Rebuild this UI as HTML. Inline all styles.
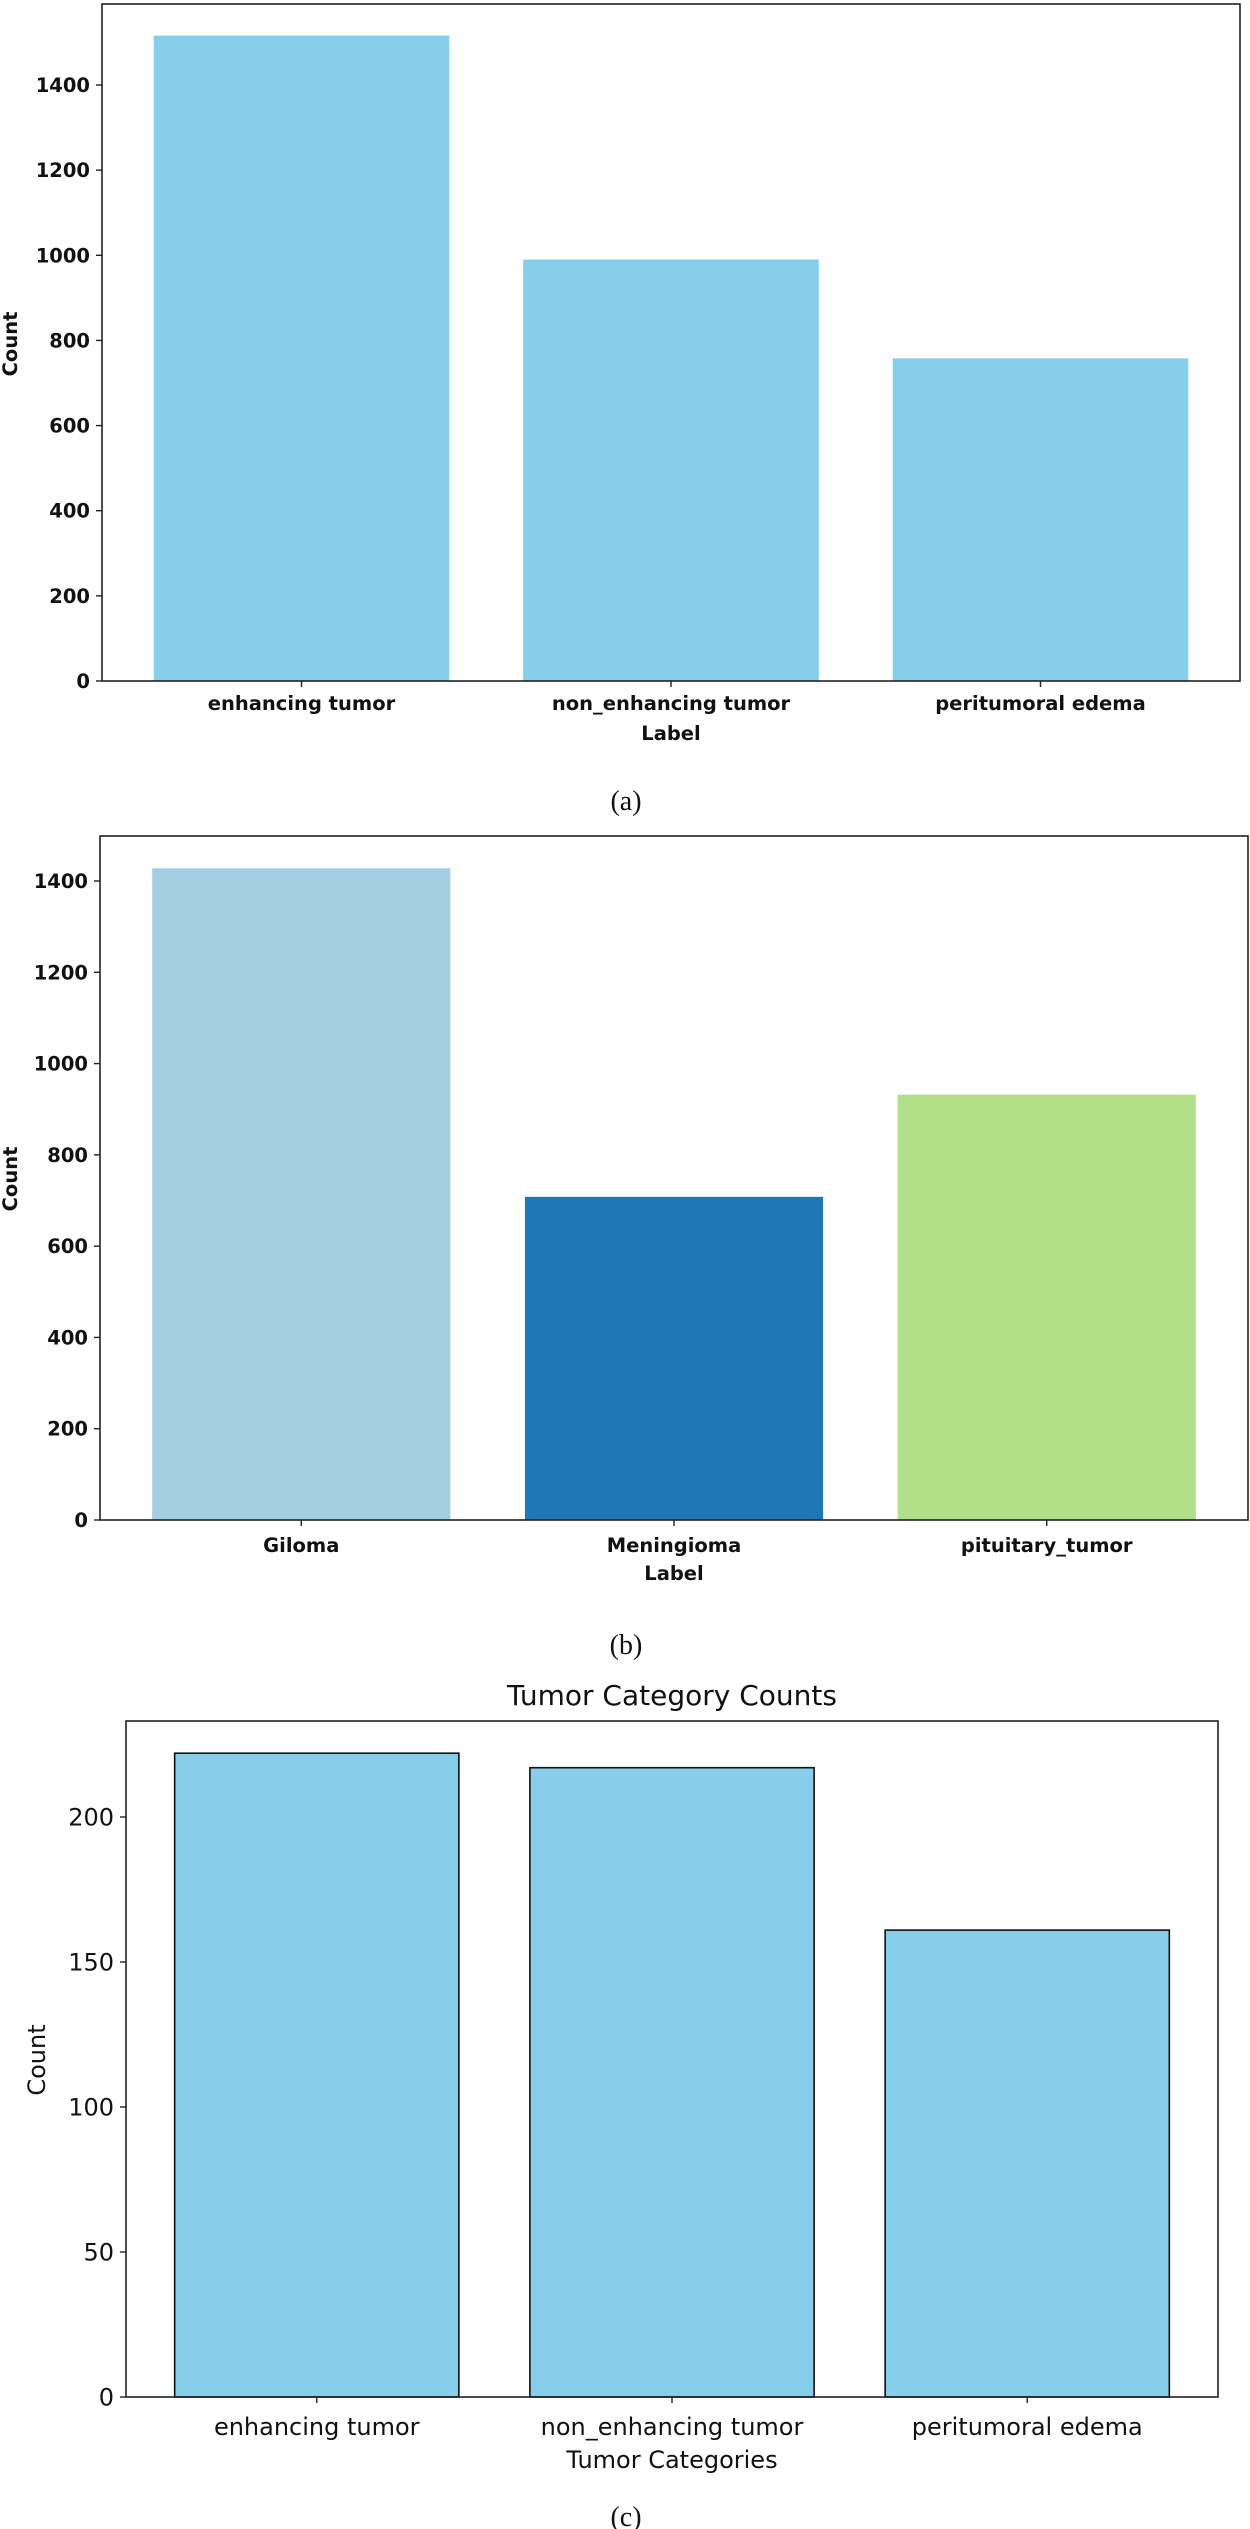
<!DOCTYPE html>
<html><head><meta charset="utf-8">
<style>
html,body{margin:0;padding:0;background:#fff;}
svg{display:block;}
text{font-family:"DejaVu Sans","Liberation Sans",sans-serif;fill:#111;}
.b{font-weight:bold;}
.cap{font-family:"Liberation Serif",serif;font-size:28px;}
</style></head>
<body>
<svg id="fig" width="1250" height="2529" viewBox="0 0 1250 2529" xmlns="http://www.w3.org/2000/svg">
<g id="chartA"></g>
<g id="chartB"></g>
<g id="chartC"></g>
<text class="cap" x="626" y="810" text-anchor="middle">(a)</text>
<text class="cap" x="626" y="1654" text-anchor="middle">(b)</text>
<text class="cap" x="626" y="2526" text-anchor="middle">(c)</text>
</svg>
<script>
const catsA = ["enhancing tumor", "non_enhancing tumor", "peritumoral edema"];
const valsA = [1516, 990, 758];
const ticksA = [0, 200, 400, 600, 800, 1000, 1200, 1400];
const catsB = ["Giloma", "Meningioma", "pituitary_tumor"];
const valsB = [1428, 708, 932];
const colorsB = ["#a6cee3", "#1f78b4", "#b2df8a"];
const ticksB = [0, 200, 400, 600, 800, 1000, 1200, 1400];
const catsC = ["enhancing tumor", "non_enhancing tumor", "peritumoral edema"];
const valsC = [222, 217, 161];
const ticksC = [0, 50, 100, 150, 200];

const NS = "http://www.w3.org/2000/svg";
function mk(parent, tag, attrs, txt) {
  const e = document.createElementNS(NS, tag);
  for (const k in attrs) e.setAttribute(k, attrs[k]);
  if (txt !== undefined) e.textContent = txt;
  parent.appendChild(e);
  return e;
}

function drawChart(g, o) {
  const xScale = i => o.left + (i - o.xmin) / (o.xmax - o.xmin) * (o.right - o.left);
  const yScale = v => o.bottom - v / o.ymaxRef * (o.bottom - o.yRefPx);
  const bw = (xScale(0.4) - xScale(-0.4));
  o.vals.forEach((v, i) => {
    const r = mk(g, "rect", {x: xScale(i) - bw / 2, y: yScale(v), width: bw, height: o.bottom - yScale(v),
      fill: o.colors ? o.colors[i] : "#87ceeb", stroke: o.edge ? "#111" : "none", "stroke-width": o.edge ? 1.6 : 0});
    
    
  });
  const frame = mk(g, "rect", {x: o.left, y: o.top, width: o.right - o.left, height: o.bottom - o.top, fill: "none", stroke: "#222", "stroke-width": 1.6});
  
  
  o.ticks.forEach(t => {
    const y = yScale(t);
    const l = mk(g, "line", {x1: o.left - 6, x2: o.left, y1: y, y2: y, stroke: "#222", "stroke-width": 1.4});
    
    
    const tx = mk(g, "text", {x: o.left - 12, y: y + o.fs * 0.36, "text-anchor": "end", "font-size": o.fs, class: o.bold ? "b" : ""}, String(t));
    
    
  });
  o.cats.forEach((c, i) => {
    const x = xScale(i);
    const l = mk(g, "line", {x1: x, x2: x, y1: o.bottom, y2: o.bottom + 6, stroke: "#222", "stroke-width": 1.4});
    
    
    const tx = mk(g, "text", {x: x, y: o.tickY, "text-anchor": "middle", "font-size": o.fs, class: o.bold ? "b" : ""}, c);
    
    
  });
  const xl = mk(g, "text", {x: (o.left + o.right) / 2, y: o.xlabY, "text-anchor": "middle", "font-size": o.fs, class: o.bold ? "b" : ""}, o.xlab);
  
  
  const yl = mk(g, "text", {x: 0, y: 0, "text-anchor": "middle", "font-size": o.fs, class: o.bold ? "b" : "",
    transform: "translate(" + o.ylabX + "," + o.ylabY + ") rotate(-90)"}, "Count");
  
  
  if (o.title) {
    const t = mk(g, "text", {x: (o.left + o.right) / 2, y: o.titleY, "text-anchor": "middle", "font-size": 28}, o.title);
    
    
  }
}

drawChart(document.getElementById("chartA"), {cats: catsA, vals: valsA, ticks: ticksA,
  left: 102, right: 1240, top: 4, bottom: 681, xmin: -0.54, xmax: 2.54, ymaxRef: 1400, yRefPx: 85,
  fs: 19.5, bold: true, tickY: 710, xlabY: 740, xlab: "Label", ylabX: 17, ylabY: 344});
drawChart(document.getElementById("chartB"), {cats: catsB, vals: valsB, ticks: ticksB, colors: colorsB,
  left: 100, right: 1248, top: 836, bottom: 1520, xmin: -0.54, xmax: 2.54, ymaxRef: 1400, yRefPx: 881,
  fs: 19.5, bold: true, tickY: 1552, xlabY: 1580, xlab: "Label", ylabX: 17, ylabY: 1179});
drawChart(document.getElementById("chartC"), {cats: catsC, vals: valsC, ticks: ticksC, edge: true,
  left: 126, right: 1218, top: 1721, bottom: 2397, xmin: -0.537, xmax: 2.537, ymaxRef: 200, yRefPx: 1817,
  fs: 24, bold: false, tickY: 2435, xlabY: 2468, xlab: "Tumor Categories", ylabX: 45, ylabY: 2060,
  title: "Tumor Category Counts", titleY: 1705});
</script>
</body></html>
